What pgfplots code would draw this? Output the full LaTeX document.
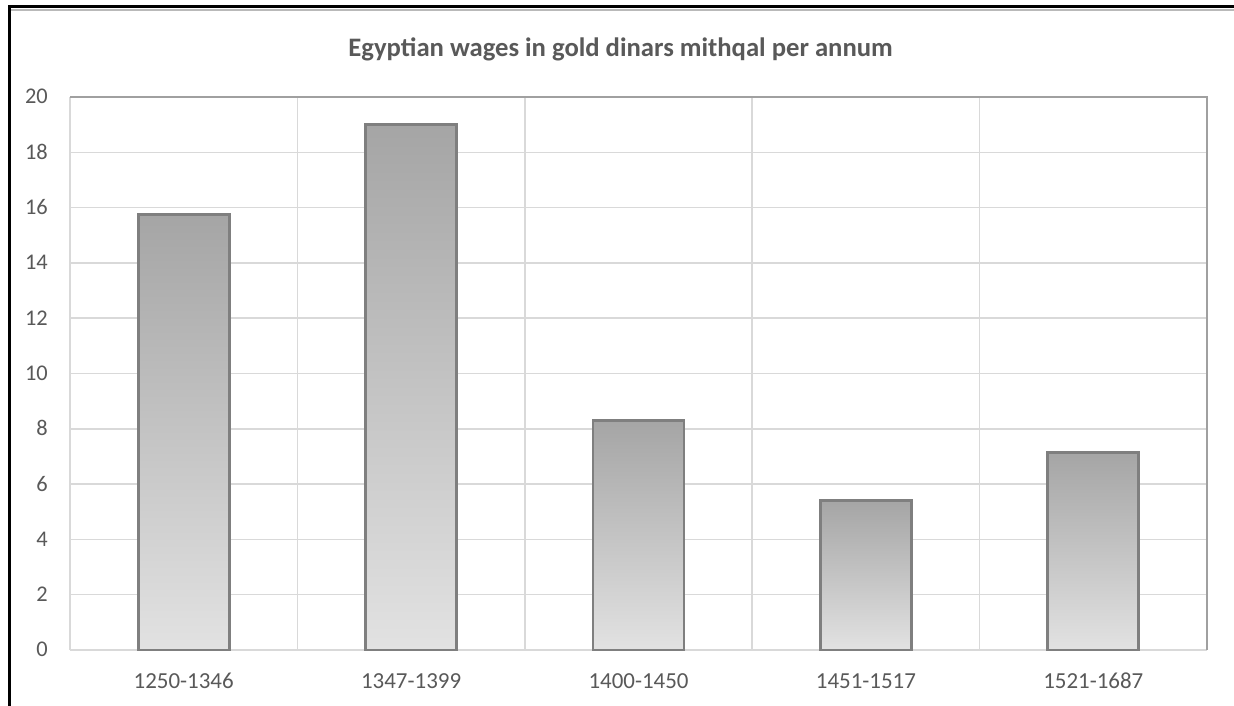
\documentclass[border=0pt]{standalone}
\usepackage{pgfplots}
\pgfplotsset{compat=1.18}
\usepackage{fontspec}
\setmainfont{Carlito}
\definecolor{txt}{HTML}{595959}
\definecolor{gridc}{HTML}{D9D9D9}
\definecolor{bord}{HTML}{A0A0A0}
\definecolor{barline}{HTML}{7F7F7F}
\definecolor{bartop}{HTML}{A5A5A5}
\definecolor{barbot}{HTML}{E2E2E2}
\pgfplotsset{mybar/.style={ybar, bar width=68.25pt, draw=barline, line width=2.2pt,
  top color=bartop, bottom color=barbot}}
\begin{document}
\begin{tikzpicture}
\useasboundingbox (0,0) rectangle (925.5pt,529.5pt);
\fill[white] (0,0) rectangle (925.5pt,529.5pt);
\begin{axis}[
  at={(52.5pt,42pt)}, anchor=south west,
  width=852.75pt, height=414.75pt, scale only axis,
  xmin=-0.5, xmax=4.5, ymin=0, ymax=20,
  ytick={0,2,...,20},
  xtick={0,1,2,3,4},
  xticklabels={1250-1346,1347-1399,1400-1450,1451-1517,1521-1687},
  minor xtick={-0.5,0.5,1.5,2.5,3.5,4.5},
  xminorgrids, ymajorgrids,
  major tick length=0pt, minor tick length=0pt,
  grid style={draw=gridc, line width=1.1pt},
  minor grid style={draw=gridc, line width=1.1pt},
  axis line style={draw=none},
  /pgf/number format/assume math mode=true,
  tick label style={text=txt},
  yticklabel style={font=\fontsize{16.8}{20}\selectfont, anchor=base east, inner sep=0pt, xshift=-16.5pt, yshift=-5.25pt},
  xticklabel style={font=\fontsize{17.2}{20}\selectfont, anchor=base, inner sep=0pt, yshift=-28.5pt},
  clip=false,
]
\addplot[mybar] coordinates {(0,15.75)};
\addplot[mybar] coordinates {(1,19.0)};
\addplot[mybar] coordinates {(2,8.3)};
\addplot[mybar] coordinates {(3,5.4)};
\addplot[mybar] coordinates {(4,7.15)};
\draw[bord, line width=1.2pt] (rel axis cs:0,1) -- (rel axis cs:1,1) -- (rel axis cs:1,0);
\end{axis}
\node[anchor=base, font=\bfseries\fontsize{20}{24}\selectfont, text=txt]
  at (465.4pt,487pt) {Egyptian wages in gold dinars mithqal per annum};
\draw[black, line width=2.25pt] (7.1pt,0pt) -- (7.1pt,524.25pt) -- (925.5pt,524.25pt);
\draw[gray!55, line width=1.5pt] (8.3pt,522pt) -- (925.5pt,522pt);
\end{tikzpicture}
\end{document}
